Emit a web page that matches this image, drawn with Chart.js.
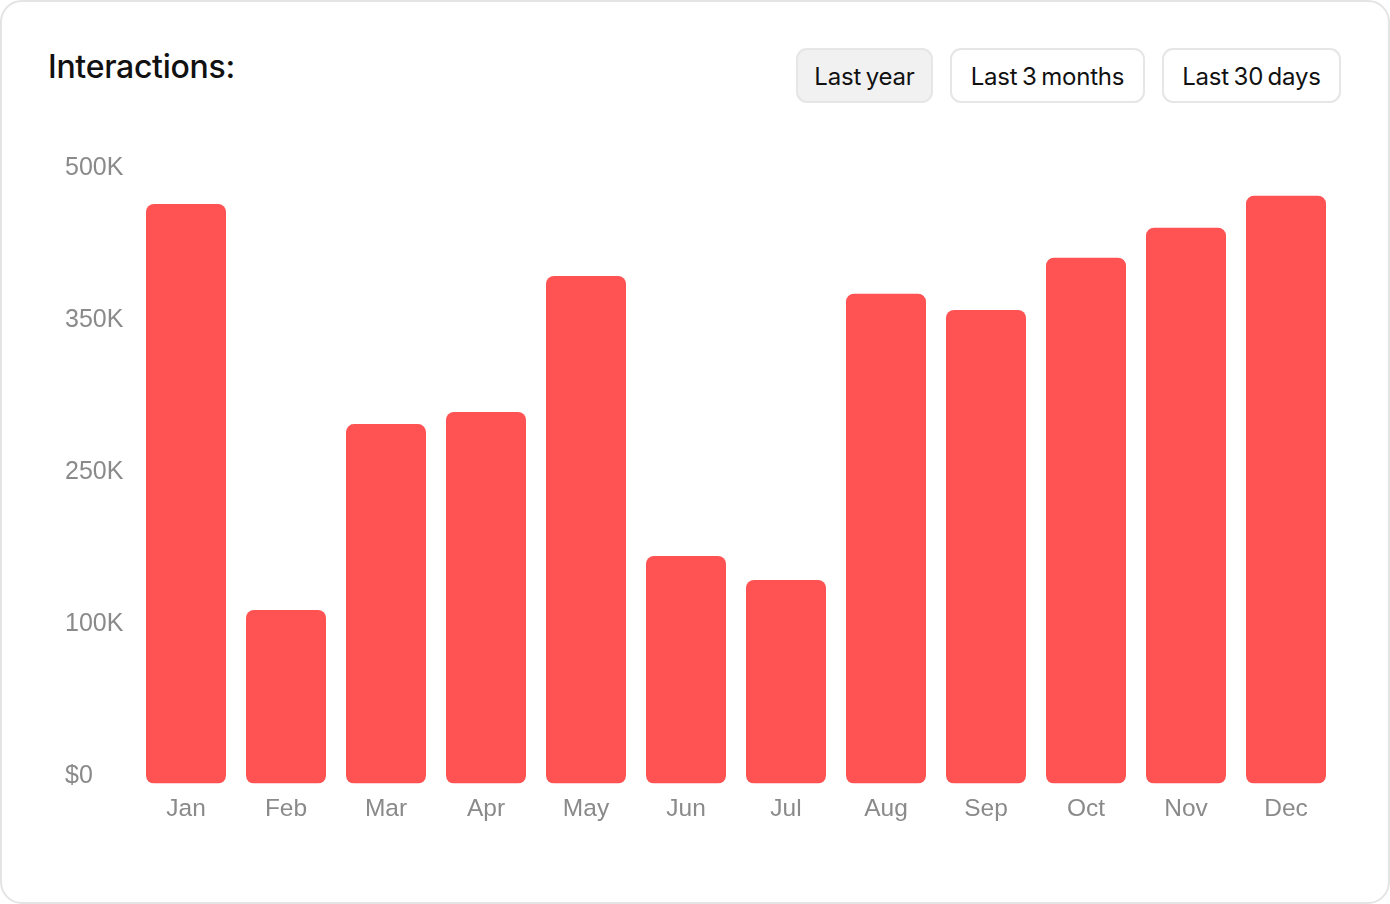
<!DOCTYPE html>
<html>
<head>
<meta charset="utf-8">
<script src="https://cdn.jsdelivr.net/npm/chart.js@4"></script>
<style>
  html, body { margin: 0; padding: 0; background: #fff; }
  body { width: 1390px; height: 904px; overflow: hidden; position: relative; }
  .card {
    position: absolute; left: 0; top: 0; width: 1390px; height: 904px;
    box-sizing: border-box; border: 2px solid #e4e4e4; border-radius: 22px; background: #fff;
  }
  h1 {
    position: absolute; left: 48px; top: 47px; margin: 0;
    font-family: Inter, sans-serif; font-weight: 500; font-size: 32px; letter-spacing: -0.3px; color: #111;
  }
  .btns { position: absolute; left: 796px; top: 48px; display: flex; gap: 17px; }
  .btns button {
    height: 55px; padding: 2px 0 0 0; box-sizing: border-box;
    border: 2px solid #e6e6e6; border-radius: 11px; background: #fff;
    font-family: Inter, sans-serif; font-size: 24px; color: #111; letter-spacing: -0.2px; word-spacing: -2px;
  }
  .btns button.on { background: #f1f1f1; }
  #wrap { position: absolute; left: 0; top: 120px; width: 1390px; height: 740px; }
</style>
</head>
<body>
<div class="card"></div>
<h1>Interactions:</h1>
<div class="btns">
  <button class="on" style="width:137px">Last year</button>
  <button style="width:195px">Last 3 months</button>
  <button style="width:179px">Last 30 days</button>
</div>
<div id="wrap"><canvas id="myChart"></canvas></div>
<script>
const months = ['Jan', 'Feb', 'Mar', 'Apr', 'May', 'Jun', 'Jul', 'Aug', 'Sep', 'Oct', 'Nov', 'Dec'];
const interactions = [476.6, 142.7, 295.6, 305.5, 417.4, 187.1, 167.4, 402.8, 389.4, 432.4, 457.1, 483.4];
const yTickLabels = ['$0', '100K', '250K', '350K', '500K'];

const fontFamily = '"Liberation Sans", Arial, sans-serif';

let ctx = document.getElementById('myChart').getContext('2d');
let barChart = new Chart(ctx, {
    type: 'bar',
    data: {
        labels: months,
        datasets: [{
            data: interactions,
            backgroundColor: '#ff5252',
            borderRadius: 8,
            borderSkipped: false,
            barPercentage: 0.8,
            categoryPercentage: 1.0
        }]
    },
    options: {
        responsive: true,
        maintainAspectRatio: false,
        animation: false,
        layout: { padding: { top: 55.5, left: 65, right: 54, bottom: 26.5 } },
        plugins: { legend: { display: false }, tooltip: { enabled: false } },
        scales: {
            x: {
                grid: { display: false, drawTicks: false },
                border: { display: false },
                ticks: { color: '#8a8a8a', font: { family: fontFamily, size: 24.5 }, padding: 11 },
                afterFit: function(scale) { scale.height = 50; }
            },
            y: {
                min: 0,
                max: 500,
                grid: { display: false, drawTicks: false },
                border: { display: false },
                ticks: {
                    stepSize: 125,
                    color: '#8a8a8a',
                    font: { family: fontFamily, size: 25 },
                    crossAlign: 'far',
                    labelOffset: -7,
                    callback: function(value, index) { return yTickLabels[index]; }
                },
                afterFit: function(scale) { scale.width = 71; }
            }
        }
    }
});
</script>
</body>
</html>
